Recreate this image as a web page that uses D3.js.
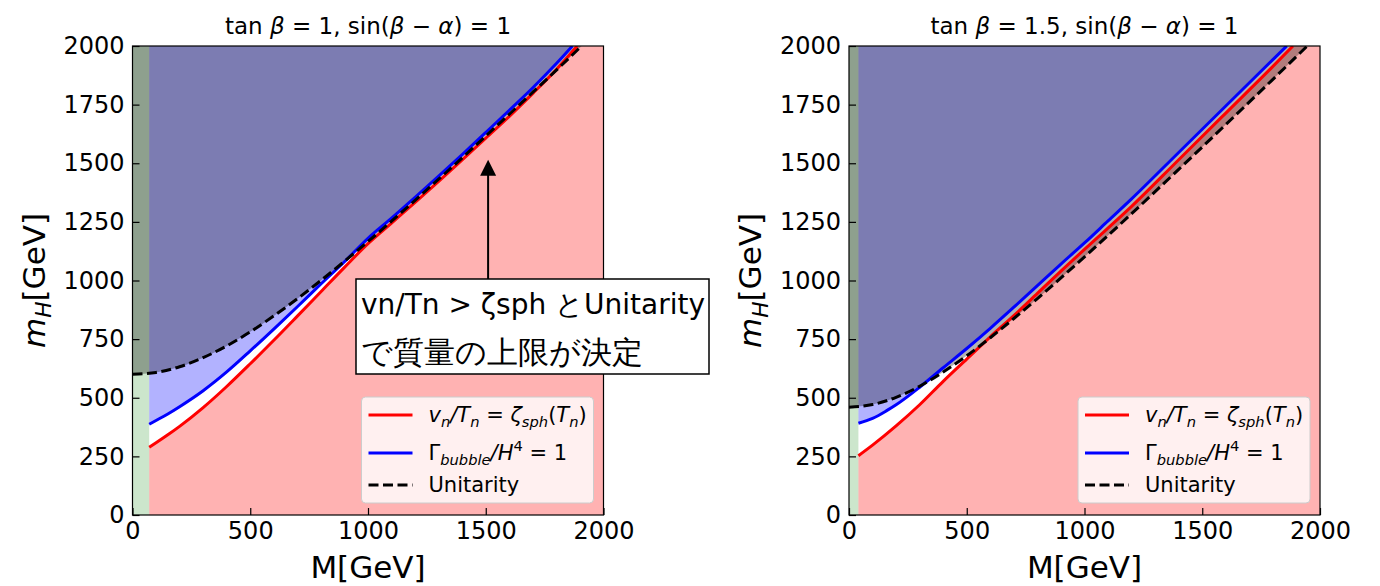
<!DOCTYPE html>
<html>
<head>
<meta charset="utf-8">
<script src="https://cdn.jsdelivr.net/npm/d3@7"></script>
<style>
  body { margin: 0; background: #fff; }
  text { font-family: "DejaVu Sans", sans-serif; }
</style>
</head>
<body>
<svg id="fig" width="1380" height="586"></svg>
<script>
// ---- data (M [GeV] -> m_H [GeV]) ----
// left panel: tanβ = 1
const redM1  = [71, 100, 150, 200, 300, 400, 500, 600, 700, 800, 900, 1000, 1100, 1200, 1300, 1400, 1500, 1600, 1700, 1800, 1888];
const redH1  = [289, 308, 342, 378, 458, 548, 645, 745, 848, 952, 1056, 1157, 1245, 1333, 1423, 1514, 1607, 1700, 1798, 1900, 2000];
const blueM1 = [71, 100, 150, 200, 300, 400, 500, 600, 700, 800, 900, 1000, 1100, 1200, 1300, 1400, 1500, 1600, 1700, 1800, 1868];
const blueH1 = [387, 403, 431, 462, 530, 610, 700, 793, 888, 985, 1080, 1180, 1266, 1355, 1445, 1537, 1631, 1726, 1822, 1925, 2000];
const uniM1  = [0, 100, 200, 300, 400, 500, 600, 700, 800, 900, 1000, 1100, 1200, 1300, 1400, 1500, 1600, 1700, 1800, 1907];
const uniH1  = [600, 608, 632, 671, 721, 781, 849, 922, 1000, 1082, 1166, 1253, 1342, 1432, 1523, 1616, 1709, 1803, 1897, 2000];

// right panel: tanβ = 1.5
const redM2  = [40, 100, 200, 300, 400, 500, 600, 700, 800, 900, 1000, 1200, 1400, 1600, 1800, 1885];
const redH2  = [253, 298, 380, 470, 570, 665, 760, 850, 945, 1040, 1133, 1316, 1515, 1714, 1913, 2000];
const blueM2 = [40, 100, 160, 200, 300, 400, 500, 600, 700, 800, 900, 1000, 1100, 1200, 1400, 1600, 1800, 1859];
const blueH2 = [391, 412, 445, 470, 545, 628, 710, 796, 886, 978, 1070, 1160, 1254, 1348, 1546, 1744, 1942, 2000];
const uniM2  = [0, 100, 200, 300, 400, 500, 600, 700, 800, 900, 1000, 1200, 1400, 1600, 1800, 1946];
const uniH2  = [460, 471, 502, 549, 610, 679, 756, 838, 923, 1011, 1101, 1285, 1474, 1665, 1858, 2000];

const greenEdge = [71, 40];          // excluded low-M strip per panel
const xTicks = [0, 500, 1000, 1500, 2000];
const yTicks = [0, 250, 500, 750, 1000, 1250, 1500, 1750, 2000];
const arrowTip = [1510, 1515];       // annotation arrow target (M, m_H)

const svg = d3.select("#fig");
const zip = (xs, ys) => xs.map((x, i) => [x, ys[i]]);

// append mathtext-like pieces as tspans
function mathText(text, parts, size) {
    let cur = 0;
    parts.forEach(p => {
        const off = p.sub ? size * 0.22 : p.sup ? -size * 0.42 : 0;
        const ts = text.append("tspan").text(p.t).attr("dy", off - cur);
        cur = off;
        if (p.i) ts.attr("font-style", "italic");
        if (off) ts.attr("font-size", size * 0.7);
    });
}

const panels = [
    { x0: 132.5, x1: 603.5, green: greenEdge[0], red: zip(redM1, redH1), blue: zip(blueM1, blueH1), uni: zip(uniM1, uniH1),
      title: [{t: "tan "}, {t: "β", i: 1}, {t: " = 1, sin("}, {t: "β", i: 1}, {t: " − "}, {t: "α", i: 1}, {t: ") = 1"}] },
    { x0: 849, x1: 1320, green: greenEdge[1], red: zip(redM2, redH2), blue: zip(blueM2, blueH2), uni: zip(uniM2, uniH2),
      title: [{t: "tan "}, {t: "β", i: 1}, {t: " = 1.5, sin("}, {t: "β", i: 1}, {t: " − "}, {t: "α", i: 1}, {t: ") = 1"}] }
];

panels.forEach((p, k) => {
    const x = d3.scaleLinear().domain([0, 2000]).range([p.x0, p.x1]);
    const y = d3.scaleLinear().domain([0, 2000]).range([515, 46]);
    const g = svg.append("g");
    const clipId = "clip" + k;
    svg.append("clipPath").attr("id", clipId).append("rect")
        .attr("x", p.x0).attr("y", 46).attr("width", p.x1 - p.x0).attr("height", 515 - 46);
    const plot = g.append("g").attr("clip-path", `url(#${clipId})`);

    const line = d3.line().x(d => x(d[0])).y(d => y(d[1])).curve(d3.curveMonotoneX);

    // green strip
    plot.append("rect").attr("x", x(0)).attr("y", y(2000))
        .attr("width", x(p.green) - x(0)).attr("height", y(0) - y(2000))
        .attr("fill", "green").attr("fill-opacity", 0.2);

    // red: below v_n/T_n curve
    const r0 = p.red[0];
    plot.append("path")
        .attr("d", "M" + x(r0[0]) + "," + y(0) + "L" + line(p.red).slice(1) + "L" + x(2000) + "," + y(2000) + "L" + x(2000) + "," + y(0) + "Z")
        .attr("fill", "red").attr("fill-opacity", 0.3);

    // blue: above bubble curve
    const b0 = p.blue[0];
    plot.append("path")
        .attr("d", "M" + x(b0[0]) + "," + y(2000) + "L" + line(p.blue).slice(1) + "Z")
        .attr("fill", "blue").attr("fill-opacity", 0.3);

    // unitarity excluded region
    plot.append("path")
        .attr("d", "M" + x(0) + "," + y(2000) + "L" + line(p.uni).slice(1) + "Z")
        .attr("fill", "black").attr("fill-opacity", 0.3);

    plot.append("path").attr("d", line(p.red)).attr("fill", "none").attr("stroke", "red").attr("stroke-width", 3);
    plot.append("path").attr("d", line(p.blue)).attr("fill", "none").attr("stroke", "blue").attr("stroke-width", 3);
    plot.append("path").attr("d", line(p.uni)).attr("fill", "none").attr("stroke", "black")
        .attr("stroke-width", 3).attr("stroke-dasharray", "10,4.5");

    // axes
    const ax = g.append("g").attr("transform", `translate(0,${y(0)})`)
        .call(d3.axisBottom(x).tickValues(xTicks).tickSize(-7).tickPadding(7).tickFormat(d3.format("d")));
    const ay = g.append("g").attr("transform", `translate(${x(0)},0)`)
        .call(d3.axisLeft(y).tickValues(yTicks).tickSize(-7).tickPadding(8).tickFormat(d3.format("d")));
    [ax, ay].forEach(a => {
        a.select(".domain").remove();
        a.selectAll("text").attr("font-size", 24).attr("fill", "#000").attr("font-family", "DejaVu Sans");
        a.selectAll("line").attr("stroke", "#000").attr("stroke-width", 1.2);
    });

    g.append("rect").attr("x", p.x0).attr("y", 46).attr("width", p.x1 - p.x0).attr("height", 515 - 46)
        .attr("fill", "none").attr("stroke", "#000").attr("stroke-width", 1.2);

    // title
    const t = g.append("text").attr("x", (p.x0 + p.x1) / 2).attr("y", 34)
        .attr("text-anchor", "middle").attr("font-size", 23);
    mathText(t, p.title, 23);

    // axis labels
    g.append("text").attr("x", (p.x0 + p.x1) / 2).attr("y", 578).attr("text-anchor", "middle")
        .attr("font-size", 31).text("M[GeV]");
    const yl = g.append("text").attr("transform", `translate(${p.x0 - 88},${(46 + 515) / 2}) rotate(-90)`)
        .attr("text-anchor", "middle").attr("font-size", 31);
    mathText(yl, [{t: "m", i: 1}, {t: "H", i: 1, sub: 1}, {t: "[GeV]"}], 31);

    // legend (lower right)
    const lg = g.append("g").attr("transform", `translate(${p.x1 - 10 - 232},397)`);
    lg.append("rect").attr("width", 232).attr("height", 106).attr("rx", 4)
        .attr("fill", "#fff").attr("fill-opacity", 0.8).attr("stroke", "#ccc");
    const rows = [
        { y: 18, c: "red", dash: null, parts: [{t: "v", i: 1}, {t: "n", i: 1, sub: 1}, {t: "/", i: 1}, {t: "T", i: 1}, {t: "n", i: 1, sub: 1},
            {t: " = "}, {t: "ζ", i: 1}, {t: "sph", i: 1, sub: 1}, {t: "("}, {t: "T", i: 1}, {t: "n", i: 1, sub: 1}, {t: ")"}] },
        { y: 56, c: "blue", dash: null, parts: [{t: "Γ"}, {t: "bubble", i: 1, sub: 1}, {t: "/", i: 1}, {t: "H", i: 1}, {t: "4", sup: 1}, {t: " = 1"}] },
        { y: 88, c: "black", dash: "10,4.5", parts: [{t: "Unitarity"}] }
    ];
    rows.forEach(r => {
        lg.append("line").attr("x1", 7).attr("x2", 51).attr("y1", r.y).attr("y2", r.y)
            .attr("stroke", r.c).attr("stroke-width", 3).attr("stroke-dasharray", r.dash);
        const tx = lg.append("text").attr("x", 67).attr("y", r.y + 7).attr("font-size", 21);
        mathText(tx, r.parts, 21);
    });

    // annotation on the left panel
    if (k === 0) {
        const tip = [x(arrowTip[0]), y(arrowTip[1])];
        g.append("line").attr("x1", tip[0]).attr("y1", 279).attr("x2", tip[0]).attr("y2", tip[1] + 14)
            .attr("stroke", "#000").attr("stroke-width", 2);
        g.append("path").attr("d", `M${tip[0]},${tip[1]}L${tip[0] - 8},${tip[1] + 16}L${tip[0] + 8},${tip[1] + 16}Z`)
            .attr("fill", "#000");
        const box = g.append("g");
        box.append("rect").attr("x", 356).attr("y", 279).attr("width", 353).attr("height", 95)
            .attr("fill", "#fff").attr("stroke", "#000").attr("stroke-width", 1.5);
        box.append("text").attr("x", 361).attr("y", 314).attr("font-size", 28)
            .attr("font-family", "'Noto Sans CJK JP', 'Noto Sans', sans-serif").text("vn/Tn > ζsph とUnitarity");
        box.append("text").attr("x", 361).attr("y", 363).attr("font-size", 31)
            .attr("font-family", "'Noto Sans CJK JP', sans-serif").text("で質量の上限が決定");
    }
});
</script>
</body>
</html>
